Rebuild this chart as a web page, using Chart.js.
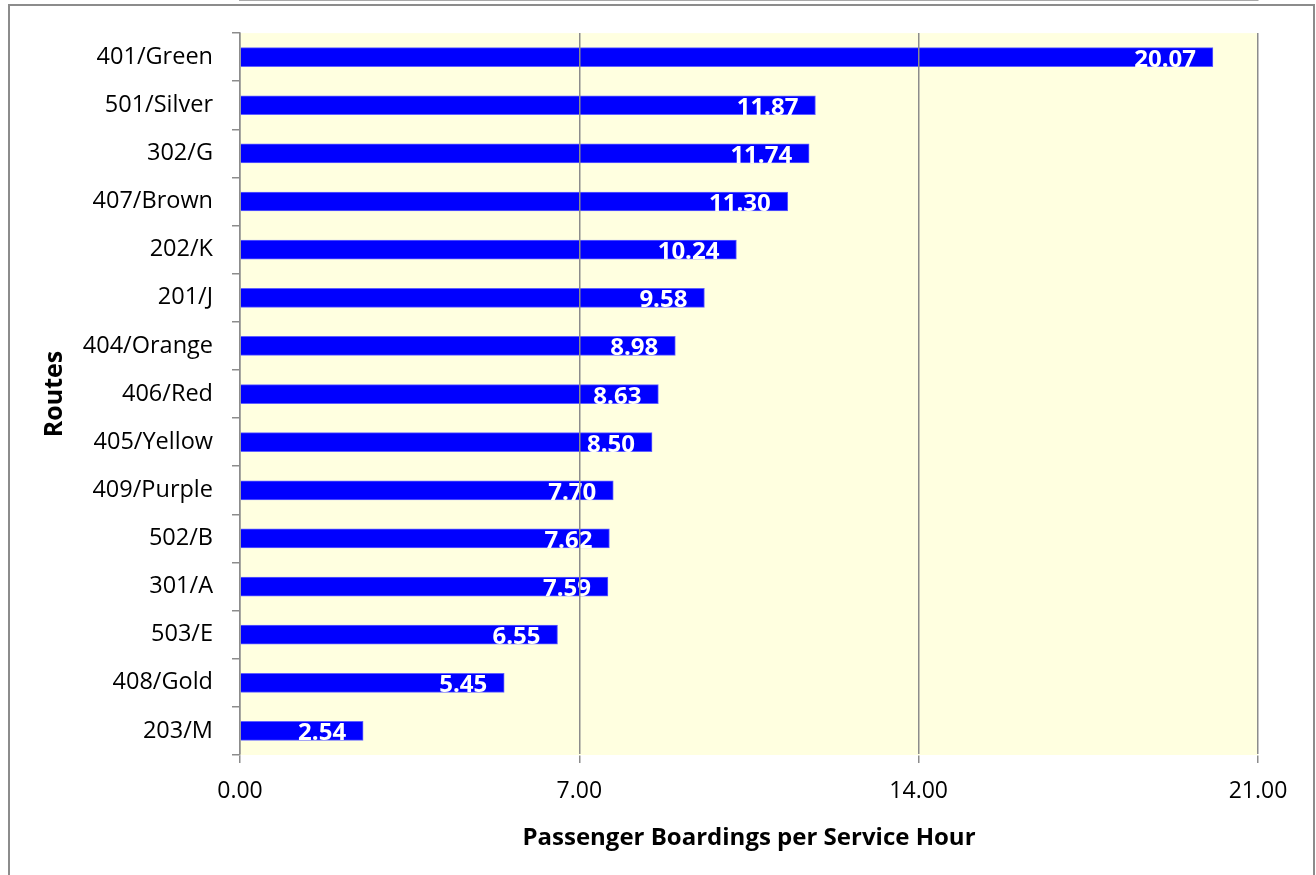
<!DOCTYPE html>
<html>
<head>
<meta charset="utf-8">
<script src="https://cdn.jsdelivr.net/npm/chart.js@4.4.0/dist/chart.umd.min.js"></script>
<style>
  html, body { margin: 0; padding: 0; background: #fff; overflow: hidden; }
  #wrap { position: relative; width: 1316px; height: 875px; }
  canvas { position: absolute; left: 0; top: 0; }
</style>
</head>
<body>
<div id="wrap">
  <canvas id="myChart" width="1316" height="875"></canvas>
</div>
<script>
// 資料
const routes = ['401/Green', '501/Silver', '302/G', '407/Brown', '202/K', '201/J', '404/Orange',
  '406/Red', '405/Yellow', '409/Purple', '502/B', '301/A', '503/E', '408/Gold', '203/M'];
const boardings = [20.07, 11.87, 11.74, 11.30, 10.24, 9.58, 8.98, 8.63, 8.50, 7.70, 7.62, 7.59, 6.55, 5.45, 2.54];
const xTicks = [0, 7, 14, 21];

const FONT = "'Open Sans', 'Liberation Sans', sans-serif";
const GRID = '#8c8c8c';

// 外框與繪圖區背景
const plotBg = {
  id: 'plotBg',
  beforeDraw(chart) {
    const { ctx, chartArea: a } = chart;
    ctx.save();
    ctx.fillStyle = '#FFFFE0';
    ctx.fillRect(a.left, a.top, a.right - a.left, a.bottom - a.top);
    ctx.restore();
  },
  afterDraw(chart) {
    const { ctx } = chart;
    ctx.save();
    ctx.strokeStyle = GRID;
    ctx.lineWidth = 2;
    ctx.beginPath();
    ctx.moveTo(9, 880);
    ctx.lineTo(9, 5);
    ctx.lineTo(1314, 5);
    ctx.lineTo(1314, 880);
    ctx.stroke();
    ctx.restore();
  }
};

// 長條內的數值標籤
const barLabels = {
  id: 'barLabels',
  afterDatasetsDraw(chart) {
    const { ctx } = chart;
    const meta = chart.getDatasetMeta(0);
    ctx.save();
    ctx.fillStyle = '#ffffff';
    ctx.font = 'bold 24px ' + FONT;
    ctx.textAlign = 'right';
    ctx.textBaseline = 'alphabetic';
    meta.data.forEach((bar, i) => {
      ctx.fillText(boardings[i].toFixed(2), bar.x - 17, bar.y + bar.height / 2);
    });
    ctx.restore();
  }
};

const ctx = document.getElementById('myChart').getContext('2d');
const myChart = new Chart(ctx, {
  type: 'bar',
  data: {
    labels: routes,
    datasets: [{
      data: boardings,
      backgroundColor: '#0000FF',
      borderColor: '#6060ff',
      borderWidth: 1,
      barThickness: 19
    }]
  },
  options: {
    indexAxis: 'y',
    responsive: false,
    animation: false,
    layout: { padding: { top: 33, right: 58, left: 0, bottom: 0 } },
    plugins: { legend: { display: false }, tooltip: { enabled: false } },
    scales: {
      x: {
        min: 0,
        max: 21,
        afterFit(scale) { scale.height = 120; },
        afterBuildTicks(scale) { scale.ticks = xTicks.map(v => ({ value: v })); },
        grid: { color: GRID, lineWidth: 1.5, tickLength: 8, z: 1 },
        border: { color: GRID, width: 1.5 },
        ticks: {
          color: '#000',
          font: { family: FONT, size: 23 },
          padding: 15,
          callback: v => Number(v).toFixed(2)
        },
        title: {
          display: true,
          text: 'Passenger Boardings per Service Hour',
          color: '#000',
          font: { family: FONT, size: 24, weight: 'bold' },
          padding: { top: 0, bottom: 22 }
        }
      },
      y: {
        afterFit(scale) { scale.width = 240; },
        grid: { drawOnChartArea: false, offset: true, color: GRID, lineWidth: 1.5, tickLength: 8 },
        border: { color: GRID, width: 1.5 },
        ticks: {
          color: '#000',
          font: { family: FONT, size: 23.5 },
          padding: 19
        },
        title: {
          display: true,
          text: 'Routes',
          color: '#000',
          font: { family: FONT, size: 25, weight: 'bold' },
          padding: { top: 40, bottom: 0 }
        }
      }
    }
  },
  plugins: [plotBg, barLabels]
});
</script>
</body>
</html>
